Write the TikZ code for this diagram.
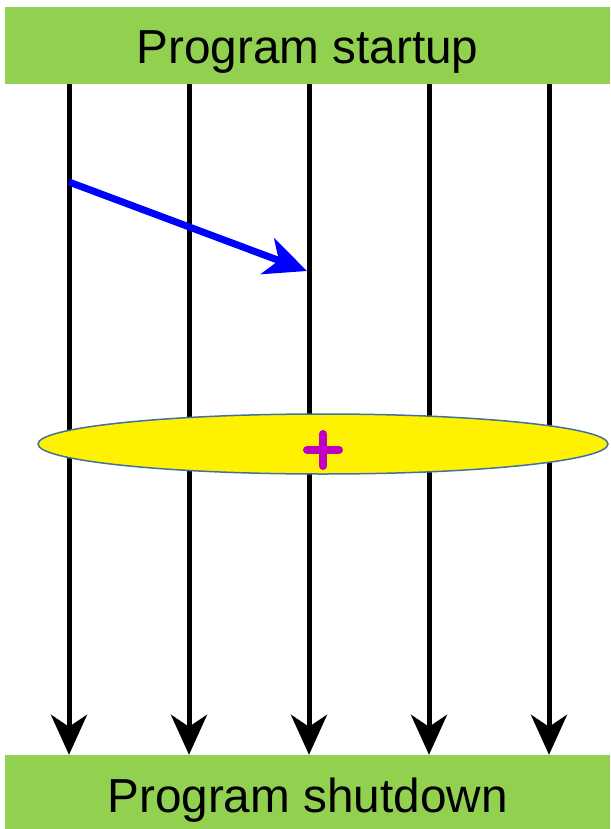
\documentclass[tikz,border=0pt]{standalone}
\usepackage{fontspec}
\setmainfont{Liberation Sans}
\usetikzlibrary{arrows.meta,shapes.geometric}

\definecolor{barGreen}{HTML}{92D050}
\definecolor{edgeBlue}{HTML}{41719C}
\definecolor{plusMagenta}{HTML}{C000C0}

\tikzset{
  bar/.style={fill=barGreen, minimum width=605pt, minimum height=77pt,
    inner sep=0pt, text depth=0pt, font=\fontsize{47.7}{50}\selectfont},
  thread/.style={line width=5pt, -{Stealth[length=40pt, width=36pt, inset=12pt]}},
}

\begin{document}
\begin{tikzpicture}[x=1pt, y=-1pt]
    \useasboundingbox (0,0) rectangle (610,829);

    \node[bar, text height=37pt] (startup) at (307.5,45.5) {Program startup};
    \node[bar, text height=40pt, minimum height=74pt] (shutdown) at (307.5,792) {Program shutdown};

    \foreach \x in {69,189,309,429,549}
        \draw[thread] (startup.south -| \x,0) -- (shutdown.north -| \x,0);

    \node[ellipse, draw=edgeBlue, line width=1.5pt, fill=yellow,
        minimum width=570pt, minimum height=60pt] (barrier) at (323,444) {};

    \draw[plusMagenta, line width=8pt, line cap=round] (323,434) -- (323,466);
    \draw[plusMagenta, line width=8pt, line cap=round] (307,450) -- (339,450);

    \coordinate (src) at (69,182);
    \coordinate (dst) at (307,271);
    \draw[blue, line width=7pt, -{Stealth[length=42pt, width=38pt, inset=12pt]}] (src) -- (dst);
\end{tikzpicture}
\end{document}
